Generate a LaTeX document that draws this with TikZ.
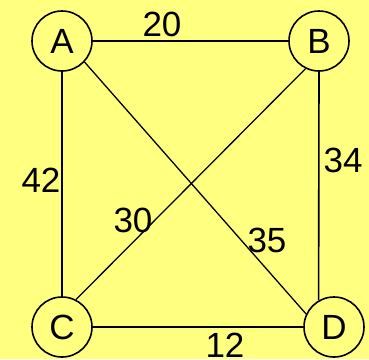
\documentclass[tikz,border=0pt]{standalone}
\usepackage{fontspec}
\setmainfont{Liberation Sans}
\definecolor{bgyellow}{HTML}{FFFF80}

\begin{document}
\begin{tikzpicture}[x=1pt, y=-1pt, line width=1.6pt,
	every node/.style={font=\fontsize{35}{38}\selectfont},
	vertex/.style={draw, circle, minimum size=60pt, inner sep=0pt},
	weight/.style={inner sep=0pt}]
	\fill[bgyellow] (0,0) rectangle (369,359);
	\useasboundingbox (0,0) rectangle (369,359);
	% vertices
	\node[vertex] (A) at (62,41) {A};
	\node[vertex] (B) at (319,41) {B};
	\node[vertex] (C) at (62,327) {C};
	\node[vertex] (D) at (334,327) {D};
	% edges
	\draw (A) -- (B);
	\draw (A) -- (C);
	\draw (C) -- (D);
	\draw (B.south) -- (D.120);
	\draw[line width=1.3pt] (A.317) -- (D.155);
	\draw[line width=1.3pt] (B.244) -- (C.63);
	% weights
	\node[weight] (wAB) at (162,24) {20};
	\node[weight] (wAC) at (41,180) {42};
	\node[weight] (wBD) at (343,160) {34};
	\node[weight] (wBC) at (133,220) {30};
	\node[weight] (wAD) at (267,240) {35};
	\node[weight] (wCD) at (225,345) {12};
\end{tikzpicture}
\end{document}
